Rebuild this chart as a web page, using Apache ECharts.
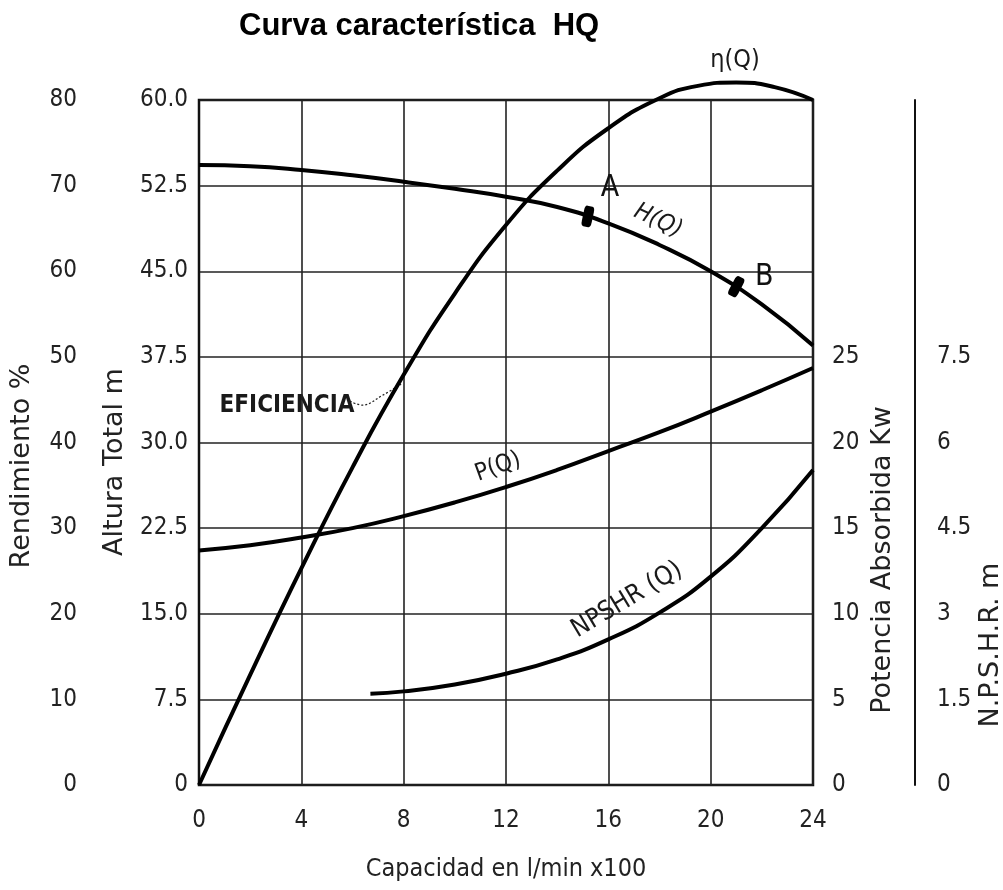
<!DOCTYPE html>
<html>
<head>
<meta charset="utf-8">
<script src="https://cdn.jsdelivr.net/npm/echarts@6/dist/echarts.min.js"></script>
<style>
  html, body { margin: 0; padding: 0; background: #fff; }
  #chart { width: 1003px; height: 890px; }
</style>
</head>
<body>
<div id="chart"></div>
<script>
const flowH = [0, 2, 4, 6, 8, 10, 12, 14, 16, 18, 20, 22, 24];
const headM = [54.3, 54.2, 53.87, 53.4, 52.84, 52.22, 51.53, 50.63, 49.2, 47.3, 45.0, 42.1, 38.5];

const flowEta = [0, 2, 4, 6, 8, 10, 12, 14, 16, 18, 19.5, 21, 22.5, 24];
const effPct = [0, 12.85, 25.3, 37.1, 47.9, 57.4, 65.4, 71.75, 76.7, 80.2, 81.65, 82.05, 81.5, 80.0];

const flowP = [0, 2, 4, 6, 8, 10, 12, 14, 16, 18, 20, 22, 24];
const powerKw = [13.7, 14.0, 14.45, 15.0, 15.7, 16.5, 17.4, 18.4, 19.5, 20.6, 21.8, 23.05, 24.35];

const flowN = [6.7, 8, 10, 12, 14, 16, 18, 20, 22, 24];
const npshrM = [1.6, 1.64, 1.76, 1.95, 2.2, 2.55, 3.02, 3.65, 4.5, 5.52];

const pointNames = ['A', 'B'];
const pointFlow = [15.2, 21.0];
const pointHead = [49.8, 43.65];

const NARROW = '"Liberation Sans Narrow", "DejaVu Sans Condensed", sans-serif';
const WIDE = '"DejaVu Sans", sans-serif';

const pairs = (xs, ys) => xs.map((x, i) => [x, ys[i]]);

const chart = echarts.init(document.getElementById('chart'));

const tickLabel = { fontFamily: NARROW, fontSize: 24, color: '#222' };

// label offsets / marker tilt for A and B
const pointStyle = {
  A: { rotate: -12, offset: [22, -28] },
  B: { rotate: -28, offset: [28, -9] }
};

function axisName(text, x, y) {
  return {
    type: 'text', x: x, y: y, rotation: Math.PI / 2, silent: true,
    style: { text: text, font: '27px ' + WIDE, fill: '#222', align: 'center', verticalAlign: 'middle' }
  };
}

let option = {
  animation: false,
  title: {
    text: 'Curva característica  HQ',
    left: 234, top: 6,
    textStyle: { fontFamily: '"Liberation Sans", Arial, sans-serif', fontWeight: 'bold', fontSize: 31, color: '#000' }
  },
  grid: {
    left: 199, right: 190, top: 100, bottom: 105,
    show: true, borderColor: '#111', borderWidth: 2.5, backgroundColor: 'transparent'
  },
  xAxis: {
    type: 'value', min: 0, max: 24, interval: 4,
    name: 'Capacidad en l/min x100',
    nameLocation: 'middle', nameGap: 72,
    nameTextStyle: { fontFamily: NARROW, fontSize: 25, color: '#222' },
    axisLine: { show: false },
    axisTick: { show: false },
    axisLabel: Object.assign({ margin: 24 }, tickLabel),
    splitLine: { show: true, lineStyle: { color: '#222', width: 1.6 } }
  },
  yAxis: [
    {
      // Rendimiento %
      type: 'value', min: 0, max: 80, interval: 10,
      position: 'left', offset: 102,
      axisLine: { show: true, lineStyle: { color: '#111', width: 2 } },
      axisTick: { show: false },
      axisLabel: Object.assign({ margin: 20 }, tickLabel),
      splitLine: { show: false }
    },
    {
      // Altura Total m
      type: 'value', min: 0, max: 60, interval: 7.5,
      position: 'left',
      axisLine: { show: false },
      axisTick: { show: false },
      axisLabel: Object.assign({ margin: 11, formatter: v => v === 0 ? '0' : v.toFixed(1) }, tickLabel),
      splitLine: { show: true, lineStyle: { color: '#222', width: 1.6 } }
    },
    {
      // Potencia Absorbida Kw
      type: 'value', min: 0, max: 40, interval: 5,
      position: 'right',
      axisLine: { show: false },
      axisTick: { show: false },
      axisLabel: Object.assign({ margin: 19, formatter: v => v <= 25 ? String(v) : '' }, tickLabel),
      splitLine: { show: false }
    },
    {
      // N.P.S.H.R. m
      type: 'value', min: 0, max: 12, interval: 1.5,
      position: 'right', offset: 102,
      axisLine: { show: true, lineStyle: { color: '#111', width: 2 } },
      axisTick: { show: false },
      axisLabel: Object.assign({ margin: 22, formatter: v => v <= 7.5 ? String(v) : '' }, tickLabel),
      splitLine: { show: false }
    }
  ],
  series: [
    {
      name: 'H(Q)', type: 'line', yAxisIndex: 1, data: pairs(flowH, headM),
      smooth: true, showSymbol: false, lineStyle: { color: '#000', width: 4 }
    },
    {
      name: 'η(Q)', type: 'line', yAxisIndex: 0, data: pairs(flowEta, effPct),
      smooth: true, showSymbol: false, clip: false, lineStyle: { color: '#000', width: 4 }
    },
    {
      name: 'P(Q)', type: 'line', yAxisIndex: 2, data: pairs(flowP, powerKw),
      smooth: true, showSymbol: false, lineStyle: { color: '#000', width: 4 }
    },
    {
      name: 'NPSHR(Q)', type: 'line', yAxisIndex: 3, data: pairs(flowN, npshrM),
      smooth: true, showSymbol: false, lineStyle: { color: '#000', width: 4 }
    },
    {
      name: 'puntos', type: 'scatter', yAxisIndex: 1, z: 5,
      symbol: 'roundRect', symbolSize: [10, 21],
      itemStyle: { color: '#000', opacity: 1 },
      data: pointNames.map((n, i) => ({
        name: n, value: [pointFlow[i], pointHead[i]],
        symbolRotate: pointStyle[n].rotate,
        label: { offset: pointStyle[n].offset }
      })),
      label: {
        show: true, position: 'inside', formatter: '{b}',
        fontFamily: NARROW, fontSize: 30, color: '#111'
      }
    }
  ],
  graphic: [
    axisName('Rendimiento %', 22, 466),
    axisName('Altura Total m', 115, 462),
    axisName('Potencia Absorbida Kw', 883, 560),
    axisName('N.P.S.H.R. m', 991, 645)
  ]
};

chart.setOption(option);

// curve captions, placed in (Q, altura) coordinates
const notes = [
  { text: 'H(Q)', at: [17.94, 49.4], angle: -25, font: 'italic 24px ' + NARROW },
  { text: 'η(Q)', at: [20.95, 63.5], angle: 0, font: '25px ' + NARROW },
  { text: 'P(Q)', at: [11.69, 27.85], angle: 20, font: '24px ' + NARROW },
  { text: 'NPSHR (Q)', at: [16.73, 16.2], angle: 31, font: '26px ' + NARROW },
  { text: 'EFICIENCIA', at: [3.44, 33.2], angle: 0, font: 'bold 24px ' + NARROW }
];
const leader = [[5.9, 33.63], [6.45, 33.28], [7.15, 34.1], [7.9, 35.1]];

const toPx = p => chart.convertToPixel({ xAxisIndex: 0, yAxisIndex: 1 }, p);

const extra = notes.map(n => {
  const p = toPx(n.at);
  return {
    type: 'text', x: p[0], y: p[1], rotation: n.angle * Math.PI / 180, silent: true,
    style: { text: n.text, font: n.font, fill: '#1a1a1a', align: 'center', verticalAlign: 'middle' }
  };
});
extra.push({
  type: 'polyline', silent: true,
  shape: { points: leader.map(toPx), smooth: 0.4 },
  style: { stroke: '#222', lineWidth: 1.3, lineDash: [2, 2], fill: null }
});

chart.setOption({ graphic: option.graphic.concat(extra) });

window.addEventListener('resize', () => chart.resize());
</script>
</body>
</html>
